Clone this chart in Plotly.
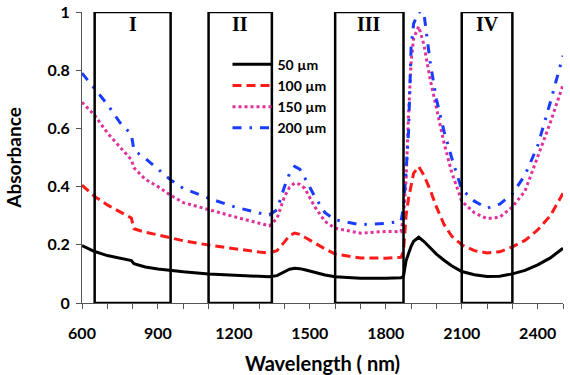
import plotly.graph_objects as go

wavelength = [600, 650, 700, 750, 795, 805, 850, 900, 950, 1000, 1100, 1200, 1300, 1340, 1370,
              1400, 1420, 1440, 1460, 1480, 1520, 1560, 1600, 1700, 1800, 1860, 1870, 1880, 1890,
              1900, 1910, 1930, 1950, 1975, 2000, 2030, 2060, 2100, 2150, 2200, 2250, 2300, 2350,
              2400, 2450, 2500]

abs_50 = [0.197, 0.177, 0.163, 0.155, 0.146, 0.135, 0.124, 0.117, 0.112, 0.107, 0.100, 0.095, 0.090,
          0.090, 0.094, 0.108, 0.116, 0.119, 0.118, 0.114, 0.105, 0.096, 0.090, 0.085, 0.085, 0.087,
          0.092, 0.145, 0.170, 0.195, 0.212, 0.226, 0.212, 0.189, 0.168, 0.147, 0.128, 0.108, 0.097,
          0.091, 0.092, 0.100, 0.112, 0.131, 0.155, 0.188]

abs_100 = [0.405, 0.366, 0.337, 0.314, 0.292, 0.255, 0.243, 0.234, 0.223, 0.214, 0.199, 0.186, 0.175,
           0.172, 0.180, 0.210, 0.232, 0.240, 0.236, 0.226, 0.205, 0.186, 0.168, 0.155, 0.154, 0.157,
           0.177, 0.300, 0.360, 0.410, 0.446, 0.469, 0.440, 0.390, 0.330, 0.270, 0.230, 0.200, 0.180,
           0.172, 0.176, 0.193, 0.215, 0.251, 0.300, 0.377]

abs_150 = [0.690, 0.645, 0.585, 0.535, 0.492, 0.465, 0.425, 0.400, 0.370, 0.345, 0.320, 0.297, 0.274,
           0.265, 0.290, 0.366, 0.398, 0.412, 0.408, 0.394, 0.330, 0.280, 0.257, 0.240, 0.246, 0.245,
           0.300, 0.420, 0.650, 0.830, 0.910, 0.950, 0.890, 0.770, 0.670, 0.550, 0.450, 0.350, 0.310,
           0.290, 0.295, 0.330, 0.385, 0.500, 0.620, 0.750]

abs_200 = [0.790, 0.737, 0.683, 0.620, 0.580, 0.525, 0.497, 0.460, 0.423, 0.394, 0.360, 0.331, 0.309,
           0.303, 0.320, 0.400, 0.445, 0.469, 0.460, 0.430, 0.365, 0.310, 0.286, 0.269, 0.274, 0.280,
           0.330, 0.450, 0.590, 0.880, 0.960, 1.000, 1.000, 0.830, 0.700, 0.590, 0.500, 0.390, 0.350,
           0.326, 0.340, 0.375, 0.440, 0.540, 0.690, 0.850]

series_names = ["50 µm", "100 µm", "150 µm", "200 µm"]
series_values = [abs_50, abs_100, abs_150, abs_200]
series_colors = ["#000000", "#ff1a1a", "#e0309c", "#1a3cff"]
series_dash = ["solid", "9px,5px", "3px,3px", "9px,8px,2.5px,8px"]

region_bounds = [(650, 950), (1100, 1350), (1600, 1870), (2100, 2300)]
region_labels = ["I", "II", "III", "IV"]

x_ticks = [600, 900, 1200, 1500, 1800, 2100, 2400]

FONT = "Lato, Calibri, Arial, sans-serif"

fig = go.Figure()
for name, vals, col, dash in zip(series_names, series_values, series_colors, series_dash):
    fig.add_trace(go.Scatter(x=wavelength, y=vals, mode="lines", name=name,
                             line=dict(color=col, width=3, dash=dash)))

for (a, b), lab in zip(region_bounds, region_labels):
    fig.add_shape(type="rect", x0=a, x1=b, y0=0, y1=1, xref="x", yref="y",
                  line=dict(color="black", width=2.5), layer="above")
    fig.add_annotation(x=(a + b) / 2, y=0.958, text=lab, showarrow=False,
                       font=dict(family="Liberation Serif, Times New Roman, serif", size=20,
                                 color="black", weight="bold"),
                       xanchor="center", yanchor="middle")

fig.update_layout(
    width=570, height=375,
    margin=dict(l=82, r=7, t=12, b=72),
    plot_bgcolor="white", paper_bgcolor="white",
    font=dict(family=FONT, color="black", weight="bold"),
    showlegend=True,
    legend=dict(x=0.3025, y=0.874, xanchor="left", yanchor="top",
                bgcolor="rgba(0,0,0,0)", font=dict(size=14, family=FONT, weight="bold"),
                tracegroupgap=0, itemwidth=40),
)

fig.update_xaxes(range=[600, 2500], tickvals=x_ticks, ticks="outside", ticklen=5,
                 tickcolor="#555", showline=True, linecolor="#555", linewidth=1,
                 showgrid=False, zeroline=False, automargin=False, ticklabelstandoff=11,
                 tickfont=dict(size=16, family=FONT, weight="bold"),
                 minor=dict(dtick=100, tick0=600, ticks="outside", ticklen=5, tickcolor="#555", showgrid=False),
                 title=dict(text="Wavelength ( nm)", font=dict(size=20, family=FONT, weight="bold"), standoff=16))
fig.update_yaxes(range=[0, 1], dtick=0.2, ticks="outside", ticklen=5,
                 tickcolor="#555", showline=True, linecolor="#555", linewidth=1,
                 showgrid=False, zeroline=False, automargin=False, ticklabelstandoff=3,
                 tickfont=dict(size=16, family=FONT, weight="bold"),
                 title=dict(text="Absorbance", font=dict(size=19, family=FONT, weight="bold"), standoff=20))

fig.write_html("out.html", config={"displayModeBar": False},
               post_script="document.body.style.margin='0';")
